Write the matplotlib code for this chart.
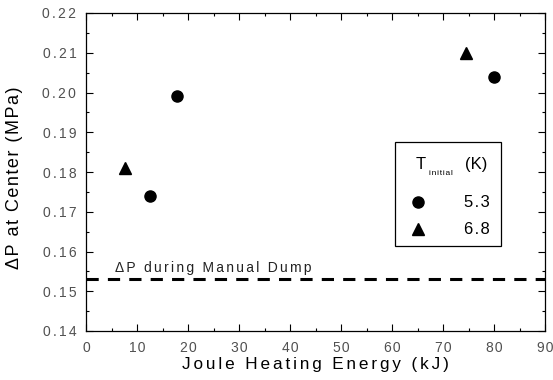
import matplotlib
matplotlib.use("Agg")
import matplotlib.pyplot as plt
from matplotlib.ticker import MultipleLocator

plt.rcParams['font.family'] = ['Liberation Sans', 'DejaVu Sans']

# data
energy_53 = [12.5, 17.8, 80.0]
dp_53 = [0.174, 0.199, 0.204]
energy_68 = [7.6, 74.5]
dp_68 = [0.181, 0.210]
dp_manual = 0.153

HAIR = u'\u200a'
SIX = u'\u2006'


def spaced(s, sp=SIX):
    # the original figure has loose letter spacing
    return sp.join(s)


fig = plt.figure(figsize=(5.53, 3.80), dpi=100)
ax = fig.add_axes([86/553, 49/380, 459/553, 318/380])

ax.plot(energy_53, dp_53, 'o', color='black', ms=8, ls='none')
ax.plot(energy_68, dp_68, '^', color='black', ms=8, ls='none')
ax.axhline(dp_manual, color='black', lw=2.2, ls=(0, (4, 3)))
ax.text(5.7, dp_manual + 0.0012, spaced(u'\u0394P during Manual Dump'),
        fontsize=10, color='#222222', va='bottom')

ax.set_xlim(0, 90)
ax.set_ylim(0.14, 0.22)
ax.xaxis.set_major_locator(MultipleLocator(10))
ax.xaxis.set_minor_locator(MultipleLocator(5))
ax.yaxis.set_major_locator(MultipleLocator(0.01))
ax.yaxis.set_minor_locator(MultipleLocator(0.005))
ax.xaxis.set_major_formatter(plt.FuncFormatter(
    lambda v, p: spaced('%d' % v, HAIR)))
ax.yaxis.set_major_formatter(plt.FuncFormatter(
    lambda v, p: spaced('%.2f' % v)))
ax.tick_params(which='both', direction='in', top=True, right=True,
               labelsize=10, labelcolor='#505050', width=0.8)
ax.tick_params(which='major', length=5)
ax.tick_params(axis='x', which='major', pad=7)
ax.tick_params(axis='y', which='major', pad=7)
ax.tick_params(which='minor', length=2.5)
for s in ax.spines.values():
    s.set_linewidth(0.9)

ax.set_xlabel(spaced('Joule Heating Energy (kJ)'), fontsize=12.3,
              labelpad=1.5)
ax.set_ylabel(spaced(u'\u0394P at Center (MPa)', HAIR), fontsize=13)
ax.yaxis.set_label_coords(-0.137, 0.481)

# legend box drawn by hand in axes coords
lx0, ly0 = (395 - 86) / 459, (331 - 246) / 318
lw_, lh_ = (501 - 395) / 459, (246 - 142) / 318
ax.add_patch(plt.Rectangle((lx0, ly0), lw_, lh_, transform=ax.transAxes,
                           fill=False, ec='black', lw=0.9, zorder=5))
tx = ax.transAxes
ax.text(lx0 + 0.0566, ly0 + lh_ * 0.78, 'T', transform=tx, fontsize=12,
        va='center', ha='center')
ax.text(lx0 + 0.075, ly0 + lh_ * 0.70, spaced('initial', HAIR),
        transform=tx, fontsize=6, va='center', ha='left')
ax.text(lx0 + 0.152, ly0 + lh_ * 0.78, '(K)', transform=tx, fontsize=12,
        va='center', ha='left')
ax.plot([lx0 + 0.050], [ly0 + lh_ * 0.423], 'o', color='black', ms=8,
        transform=tx)
ax.plot([lx0 + 0.050], [ly0 + lh_ * 0.163], '^', color='black', ms=8,
        transform=tx)
ax.text(lx0 + 0.207, ly0 + lh_ * 0.423, spaced('5.3', HAIR), transform=tx,
        fontsize=12, va='center', ha='right')
ax.text(lx0 + 0.207, ly0 + lh_ * 0.163, spaced('6.8', HAIR), transform=tx,
        fontsize=12, va='center', ha='right')

fig.savefig('out.png', dpi=100)
